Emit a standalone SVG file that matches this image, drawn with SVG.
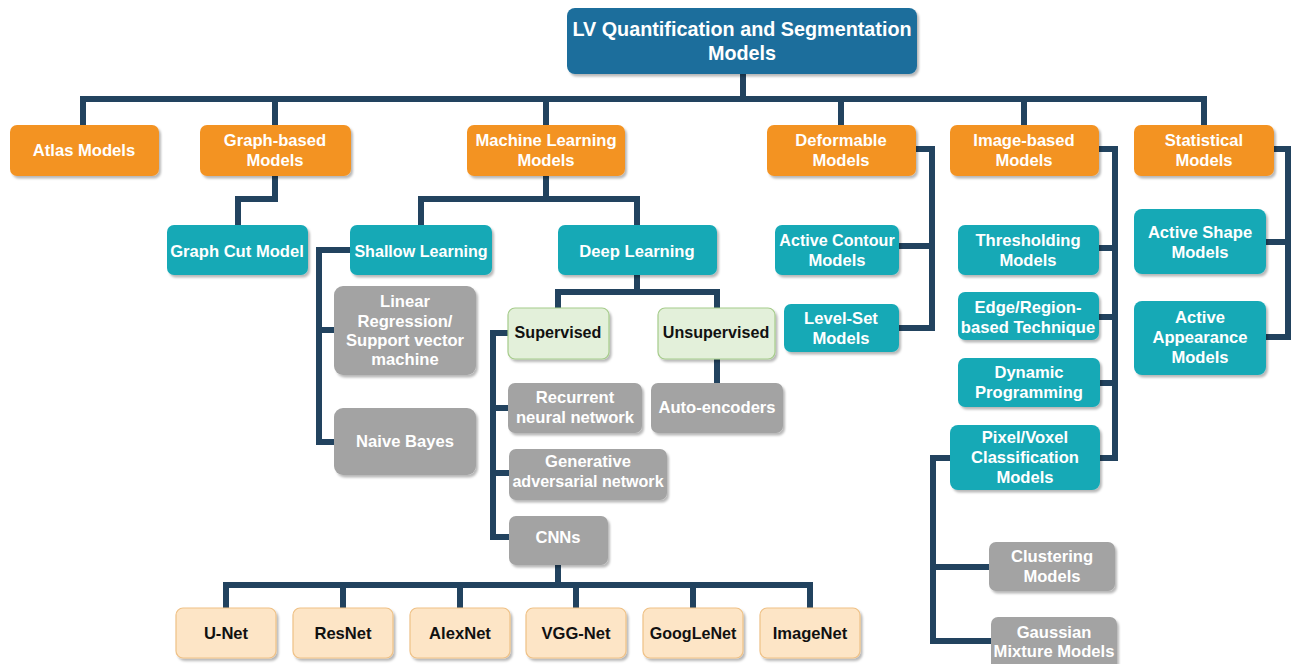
<svg xmlns="http://www.w3.org/2000/svg" width="1294" height="664" viewBox="0 0 1294 664">
<defs>
<filter id="sh" x="-10%" y="-10%" width="130%" height="140%">
<feDropShadow dx="2" dy="2.5" stdDeviation="1.2" flood-color="#000" flood-opacity="0.28"/>
</filter>
<style>
.box{filter:url(#sh);}
.root{fill:#1B6E9C;}
.or{fill:#F39322;}
.tl{fill:#15A9B6;}
.gr{fill:#A3A3A3;}
.gn{fill:#E3F0DA;stroke:#A6CC8B;stroke-width:1.2;}
.pc{fill:#FDE5C6;stroke:#EFC186;stroke-width:1.2;}
text{font-family:"Liberation Sans",Arial,sans-serif;font-weight:bold;font-size:16.6px;fill:#fff;text-anchor:middle;}
text.rt{font-size:19.8px;}
text.sm{font-size:16.1px;}
text.dk{fill:#111;}
.cn{fill:none;stroke:#22435F;stroke-width:6;stroke-linejoin:miter;stroke-linecap:butt;}
</style>
</defs>
<rect width="1294" height="664" fill="#fff"/>

<g id="connectors">
<path class="cn" d="M743 74 V99 M80 99 H1207 M83 96 V125 M275 96 V125 M546 96 V125 M841 96 V125 M1024 96 V125 M1204 96 V125"/>
<path class="cn" d="M275 176 V199 H238 V225"/>
<path class="cn" d="M546 176 V199 M418 199 H640 M421 196 V225 M637 196 V225"/>
<path class="cn" d="M350 250 H319 V442 H334 M319 330 H334"/>
<path class="cn" d="M637 275 V292 M555 292 H720 M558 289 V308 M717 289 V308"/>
<path class="cn" d="M717 359 V383"/>
<path class="cn" d="M508 333 H493 V537 H509 M493 408 H508 M493 473 H509"/>
<path class="cn" d="M558 565 V585 M223 585 H813 M226 582 V608 M343 582 V608 M460 582 V608 M576 582 V608 M693 582 V608 M810 582 V608"/>
<path class="cn" d="M916 149 H932 V328 H899 M932 246 H899"/>
<path class="cn" d="M1099 149 H1115 V458 H1100 M1115 248 H1099 M1115 317 H1099 M1115 383 H1100"/>
<path class="cn" d="M950 458 H933 V641 H991 M933 567 H989"/>
<path class="cn" d="M1274 149 H1288 V337 H1266 M1288 242 H1266"/>
</g>

<g id="root"><rect class="box root" x="567" y="8" width="350" height="66" rx="8"/>
<text class="rt" x="742" y="36">LV Quantification and Segmentation</text><text class="rt" x="742" y="60">Models</text></g>

<g id="atlas"><rect class="box or" x="10" y="125" width="149" height="51" rx="7"/><text x="84" y="156">Atlas Models</text></g>
<g id="graph"><rect class="box or" x="200" y="125" width="151" height="51" rx="7"/><text x="275" y="146">Graph-based</text><text x="275" y="166">Models</text></g>
<g id="ml"><rect class="box or" x="467" y="125" width="158" height="51" rx="7"/><text x="546" y="146">Machine Learning</text><text x="546" y="166">Models</text></g>
<g id="deformable"><rect class="box or" x="767" y="125" width="149" height="51" rx="7"/><text x="841" y="146">Deformable</text><text x="841" y="166">Models</text></g>
<g id="image"><rect class="box or" x="950" y="125" width="149" height="51" rx="7"/><text x="1024" y="146">Image-based</text><text x="1024" y="166">Models</text></g>
<g id="statistical"><rect class="box or" x="1134" y="125" width="140" height="51" rx="7"/><text x="1204" y="146">Statistical</text><text x="1204" y="166">Models</text></g>

<g id="graphcut"><rect class="box tl" x="167" y="225" width="141" height="50" rx="7"/><text x="237" y="257">Graph Cut Model</text></g>
<g id="shallow"><rect class="box tl" x="350" y="225" width="142" height="50" rx="7"/><text class="sm" x="421" y="257">Shallow Learning</text></g>
<g id="deep"><rect class="box tl" x="558" y="225" width="159" height="50" rx="7"/><text x="637" y="257">Deep Learning</text></g>

<g id="linear"><rect class="box gr" x="334" y="286" width="142" height="89" rx="9"/><text x="405" y="307">Linear</text><text x="405" y="327">Regression/</text><text x="405" y="346">Support vector</text><text x="405" y="365">machine</text></g>
<g id="naive"><rect class="box gr" x="334" y="408" width="142" height="67" rx="9"/><text x="405" y="447">Naive Bayes</text></g>

<g id="supervised"><rect class="box gn" x="508" y="308" width="101" height="51" rx="7"/><text class="dk sm" x="558" y="338">Supervised</text></g>
<g id="unsupervised"><rect class="box gn" x="658" y="308" width="117" height="51" rx="7"/><text class="dk sm" x="716" y="338">Unsupervised</text></g>
<g id="rnn"><rect class="box gr" x="508" y="383" width="134" height="50" rx="7"/><text x="575" y="403">Recurrent</text><text x="575" y="423">neural network</text></g>
<g id="autoenc"><rect class="box gr" x="651" y="383" width="132" height="50" rx="7"/><text x="717" y="413">Auto-encoders</text></g>
<g id="gan"><rect class="box gr" x="509" y="449" width="158" height="51" rx="7"/><text x="588" y="467">Generative</text><text class="sm" x="588" y="487">adversarial network</text></g>
<g id="cnns"><rect class="box gr" x="509" y="516" width="99" height="49" rx="7"/><text x="558" y="543">CNNs</text></g>

<g id="unet"><rect class="box pc" x="176" y="608" width="100" height="50" rx="7"/><text class="dk" x="226" y="639">U-Net</text></g>
<g id="resnet"><rect class="box pc" x="293" y="608" width="100" height="50" rx="7"/><text class="dk" x="343" y="639">ResNet</text></g>
<g id="alexnet"><rect class="box pc" x="410" y="608" width="100" height="50" rx="7"/><text class="dk" x="460" y="639">AlexNet</text></g>
<g id="vggnet"><rect class="box pc" x="526" y="608" width="100" height="50" rx="7"/><text class="dk" x="576" y="639">VGG-Net</text></g>
<g id="googlenet"><rect class="box pc" x="643" y="608" width="100" height="50" rx="7"/><text class="dk sm" x="693" y="639">GoogLeNet</text></g>
<g id="imagenet"><rect class="box pc" x="760" y="608" width="100" height="50" rx="7"/><text class="dk" x="810" y="639">ImageNet</text></g>

<g id="activecontour"><rect class="box tl" x="775" y="225" width="124" height="50" rx="7"/><text class="sm" x="837" y="246">Active Contour</text><text x="837" y="266">Models</text></g>
<g id="levelset"><rect class="box tl" x="784" y="304" width="115" height="48" rx="7"/><text x="841" y="324">Level-Set</text><text x="841" y="344">Models</text></g>

<g id="threshold"><rect class="box tl" x="958" y="225" width="141" height="50" rx="7"/><text x="1028" y="246">Thresholding</text><text x="1028" y="266">Models</text></g>
<g id="edge"><rect class="box tl" x="958" y="292" width="141" height="48" rx="7"/><text x="1028" y="313">Edge/Region-</text><text x="1028" y="333">based Technique</text></g>
<g id="dynamic"><rect class="box tl" x="958" y="358" width="142" height="49" rx="7"/><text x="1029" y="378">Dynamic</text><text x="1029" y="398">Programming</text></g>
<g id="pixel"><rect class="box tl" x="950" y="425" width="150" height="65" rx="8"/><text x="1025" y="443">Pixel/Voxel</text><text x="1025" y="463">Classification</text><text x="1025" y="483">Models</text></g>
<g id="clustering"><rect class="box gr" x="989" y="542" width="126" height="49" rx="7"/><text x="1052" y="562">Clustering</text><text x="1052" y="582">Models</text></g>
<g id="gaussian"><rect class="box gr" x="991" y="617" width="126" height="56" rx="7"/><text x="1054" y="638">Gaussian</text><text x="1054" y="657">Mixture Models</text></g>

<g id="activeshape"><rect class="box tl" x="1134" y="209" width="132" height="65" rx="8"/><text x="1200" y="238">Active Shape</text><text x="1200" y="258">Models</text></g>
<g id="activeappearance"><rect class="box tl" x="1134" y="301" width="132" height="74" rx="8"/><text x="1200" y="323">Active</text><text x="1200" y="343">Appearance</text><text x="1200" y="363">Models</text></g>
</svg>
